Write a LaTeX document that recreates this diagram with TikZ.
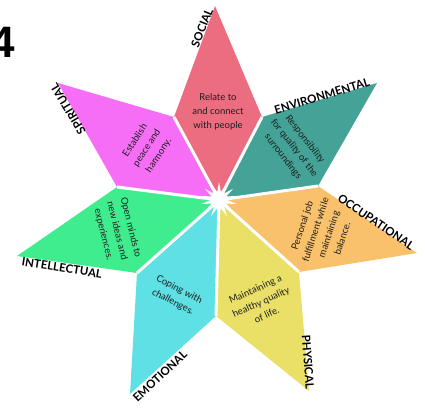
\documentclass[tikz,border=0pt]{standalone}
\usepackage{fontspec}
\setmainfont{Lato}
\newfontfamily\bignum{Liberation Sans}
\usetikzlibrary{positioning,shapes.geometric}

\definecolor{socialc}{RGB}{236,108,128}
\definecolor{envc}{RGB}{68,162,150}
\definecolor{occc}{RGB}{249,193,107}
\definecolor{physc}{RGB}{234,224,104}
\definecolor{emoc}{RGB}{94,224,228}
\definecolor{intc}{RGB}{64,237,142}
\definecolor{spirc}{RGB}{245,110,245}
\definecolor{inkc}{RGB}{30,30,30}

\tikzset{
  gap/.style={white, line width=3pt},
  lbl/.style={font=\bfseries\fontsize{11.5}{12}\selectfont, inner sep=0pt, text=black},
  txt/.style={font=\fontsize{9.5}{14}\selectfont, align=center, inner sep=0pt, text=inkc},
}

\begin{document}
\begin{tikzpicture}[x=1pt,y=-1pt]
  \useasboundingbox (0,0) rectangle (425,408);
  \clip (0,0) rectangle (425,408);

  % Define the centre, the side corners and the tips of the star
  \coordinate (c) at (219,200);
  \coordinate (s1) at (262,117);
  \coordinate (s2) at (318,186);
  \coordinate (s3) at (299,272);
  \coordinate (s4) at (216,316);
  \coordinate (s5) at (137,273);
  \coordinate (s6) at (117,187);
  \coordinate (s7) at (174,117);
  \coordinate (t1) at (215,6);
  \coordinate (t2) at (377,83);
  \coordinate (t3) at (417,253);
  \coordinate (t4) at (309,391);
  \coordinate (t5) at (130,394);
  \coordinate (t6) at (17,256);
  \coordinate (t7) at (58,83);

  % Fill the seven petals
  \fill[socialc] (c) -- (s7) -- (t1) -- (s1) -- cycle;
  \fill[envc] (c) -- (s1) -- (t2) -- (s2) -- cycle;
  \fill[occc] (c) -- (s2) -- (t3) -- (s3) -- cycle;
  \fill[physc] (c) -- (s3) -- (t4) -- (s4) -- cycle;
  \fill[emoc] (c) -- (s4) -- (t5) -- (s5) -- cycle;
  \fill[intc] (c) -- (s5) -- (t6) -- (s6) -- cycle;
  \fill[spirc] (c) -- (s6) -- (t7) -- (s7) -- cycle;

  % White gaps between the petals and the burst in the middle
  \foreach \s in {s1,s2,s3,s4,s5,s6,s7}
    \draw[gap] (c) -- (\s);
  \node[star, star points=14, star point ratio=2.2, fill=white, minimum size=36pt, inner sep=0pt] (burst) at (c) {};

  % Names of the petals
  \node[lbl, rotate=68] (social) at (202,28) {SOCIAL};
  \node[lbl, rotate=16.8] (environmental) at (322,96) {ENVIRONMENTAL};
  \node[lbl, rotate=-34] (occupational) at (376,222) {OCCUPATIONAL};
  \node[lbl, rotate=-86] (physical) at (308,362) {PHYSICAL};
  \node[lbl, rotate=43] (emotional) at (160,376) {EMOTIONAL};
  \node[lbl, rotate=-9] (intellectual) at (62,268) {INTELLECTUAL};
  \node[lbl, rotate=121] (spiritual) at (68,109) {SPIRITUAL};

  % Texts inside the petals
  \node[txt] (socialtxt) at (218,112) {Relate to\\and connect\\with people};
  \node[txt, rotate=-52] (envtxt) at (294,148) {Responsibility\\for quality of the\\surroundings};
  \node[txt, rotate=72] (occtxt) at (322,232) {Personal job\\fulfillment while\\maintaining\\balance.};
  \node[txt, rotate=24] (phystxt) at (261,302) {Maintaining a\\healthy quality\\of life.};
  \node[txt, rotate=-27] (emotxt) at (176,296) {Coping with\\challenges.};
  \node[txt, rotate=-76] (inttxt) at (117,231) {Open minds to\\new ideas and\\experiences.};
  \node[txt, rotate=57] (spirtxt) at (147,148) {Establish\\peace and\\harmony.};

  % Page number, cut at the left edge
  \node[font=\bignum\bfseries\fontsize{44}{44}\selectfont, inner sep=0pt, anchor=east] (num) at (15,42) {4};
\end{tikzpicture}
\end{document}
